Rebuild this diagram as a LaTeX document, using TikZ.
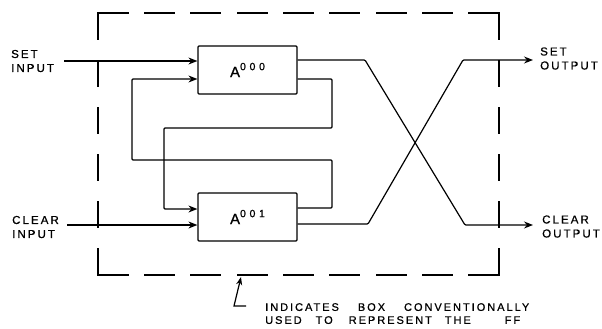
\documentclass[tikz,border=0pt]{standalone}
\usepackage{fontspec}
\setmainfont[LetterSpace=18,FakeBold=0.8]{Liberation Sans}
\usetikzlibrary{arrows.meta,calc}
\begin{document}
\begin{tikzpicture}[x=1pt,y=-1pt,
  wire/.style={line width=1.2pt,rounded corners=1pt},
  arr/.style={wire,-{Stealth[length=9pt,width=7pt,inset=3pt]}},
  blk/.style={draw,line width=1.2pt,minimum width=99pt,minimum height=48pt,inner sep=0pt,rounded corners=1pt},
  lbl/.style={font=\fontsize{11.5}{14}\selectfont,align=left,inner sep=0pt},
  notetxt/.style={font=\fontsize{11}{13}\selectfont,align=left,inner sep=0pt},
  ffbox/.style={line width=1.2pt,line cap=rect},
  boxtxt/.style={font=\fontsize{15}{15}\selectfont}]
\useasboundingbox (0,0) rectangle (602,329);

% blocks
\node[blk,boxtxt] (a0) at (247.5,70) {A\raisebox{7pt}{\fontsize{10.5}{10.5}\selectfont\addfontfeature{LetterSpace=35}000}};
\node[blk,boxtxt] (a1) at (247.5,217) {A\raisebox{7pt}{\fontsize{10.5}{10.5}\selectfont\addfontfeature{LetterSpace=35}001}};

% labels
\node[lbl,anchor=west] (setin) at (11,61) {SET\\INPUT};
\node[lbl,anchor=west] (clrin) at (12,227) {CLEAR\\INPUT};
\node[lbl,anchor=west] (setout) at (540,58.5) {SET\\OUTPUT};
\node[lbl,anchor=west] (clrout) at (542,226.5) {CLEAR\\OUTPUT};

% inputs
\coordinate (sinS) at (64,61);
\coordinate (cinS) at (67,225);
\draw[arr] (sinS) -- (sinS -| a0.west);
\draw[arr] (cinS) -- (cinS -| a1.west);

% feedback A000 -> A001
\coordinate (f1a) at (332,79);
\coordinate (f1b) at (332,128);
\coordinate (f1c) at (164,128);
\coordinate (f1d) at (164,209);
\draw[arr] (a0.east |- f1a) -- (f1a) -- (f1b) -- (f1c) -- (f1d) -- (f1d -| a1.west);

% feedback A001 -> A000
\coordinate (f2a) at (332,208);
\coordinate (f2b) at (332,160);
\coordinate (f2c) at (132,160);
\coordinate (f2d) at (132,79);
\draw[arr] (a1.east |- f2a) -- (f2a) -- (f2b) -- (f2c) -- (f2d) -- (f2d -| a0.west);

% crossed outputs
\coordinate (x1) at (365,60);
\coordinate (x2) at (465,225);
\coordinate (qo) at (533,225);
\draw[arr] (a0.east |- x1) -- (x1) -- (x2) -- (qo);
\coordinate (y1) at (368,224);
\coordinate (y2) at (463,60);
\coordinate (po) at (533,60);
\draw[arr] (a1.east |- y1) -- (y1) -- (y2) -- (po);

% dashed flip-flop box
\coordinate (TL) at (98,13);
\coordinate (TR) at (499,13);
\coordinate (BR) at (499,275);
\coordinate (BL) at (98,275);
\draw[ffbox,dash pattern=on 30pt off 16.375pt] (TL) -- (TR) (BL) -- (BR);
\draw[ffbox,dash pattern=on 26pt off 21.2pt] (TL) -- (BL) (TR) -- (BR);

% note
\coordinate (nt) at (241,277);
\coordinate (nb) at (234,306);
\coordinate (nf) at (246,306);
\draw[line width=1.2pt,-{Stealth[length=8pt,width=6pt,inset=2.5pt]}] (nf) -- (nb) -- (nt);
\node[notetxt,anchor=north west] (note) at (265,303)
  {INDICATES\hspace{19pt}BOX\hspace{19pt}CONVENTIONALLY\\
   USED\hspace{14pt}TO\hspace{16pt}REPRESENT\hspace{13pt}THE\hspace{34pt}FF};
\end{tikzpicture}
\end{document}
